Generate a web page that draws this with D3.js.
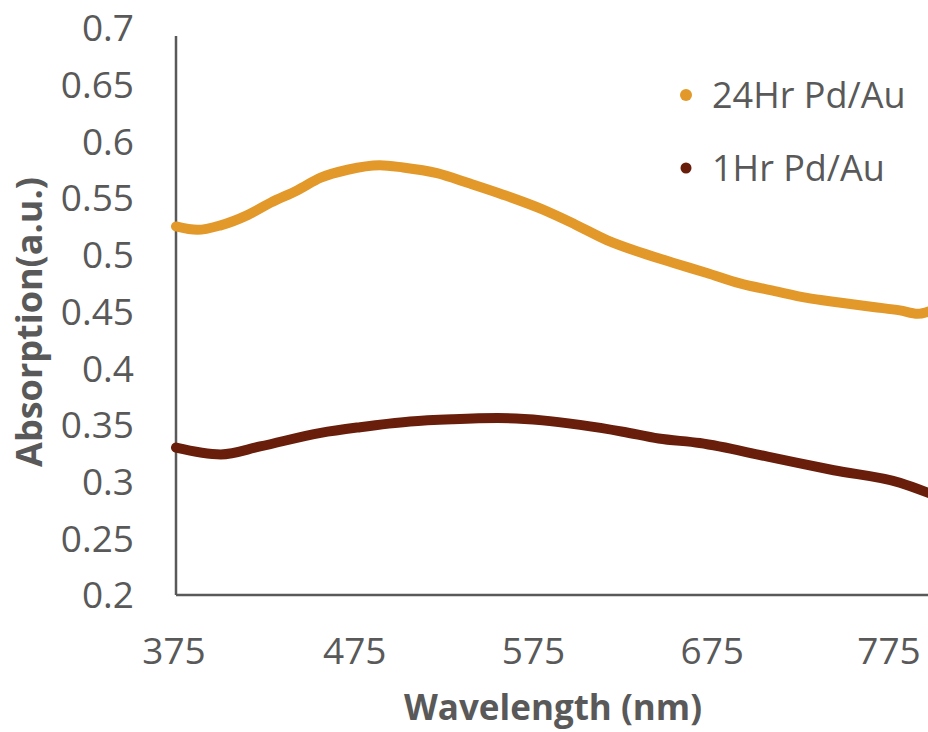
<!DOCTYPE html>
<html><head><meta charset="utf-8">
<script src="https://cdn.jsdelivr.net/npm/d3@7"></script>
<style>body{margin:0;background:#fff}svg{display:block}</style>
</head><body><div id="chart"></div>
<script>
const wavelengths24 = [375,387,400,415,428,443,456,471,489,502,521,539,558,580,598,616,635,653,672,690,710,728,746,765,780,790,796];
const absorb24 =      [0.525,0.522,0.526,0.535,0.546,0.557,0.568,0.575,0.579,0.577,0.572,0.563,0.553,0.540,0.527,0.513,0.502,0.493,0.484,0.475,0.468,0.462,0.458,0.454,0.451,0.448,0.450];
const wavelengths1 = [375,400,422,456,478,506,530,555,580,601,625,645,668,706,743,780,796];
const absorb1 =      [0.330,0.324,0.331,0.343,0.348,0.353,0.355,0.356,0.354,0.350,0.344,0.338,0.334,0.322,0.310,0.299,0.290];
const xTicks = [375,475,575,675,775];
const yTicks = [0.2,0.25,0.3,0.35,0.4,0.45,0.5,0.55,0.6,0.65,0.7];
const seriesNames = ["24Hr Pd/Au","1Hr Pd/Au"];
const colors = ["#E3982A","#681E0A"];

const W=928,H=732;
const svg=d3.select("#chart").append("svg").attr("width",W).attr("height",H);
const x=d3.scaleLinear().domain([375,775]).range([176,891]);
const y=d3.scaleLinear().domain([0.2,0.7]).range([595,28]);
const grey="#595959";
const font="'Open Sans', sans-serif";

// axes lines
svg.append("line").attr("x1",x(375)).attr("x2",W).attr("y1",y(0.2)).attr("y2",y(0.2)).attr("stroke",grey).attr("stroke-width",2.5);
svg.append("line").attr("x1",x(375)).attr("x2",x(375)).attr("y1",36).attr("y2",y(0.2)).attr("stroke",grey).attr("stroke-width",2.5);

// tick labels
svg.append("g").selectAll("text").data(yTicks).join("text")
  .attr("x",134).attr("y",d=>y(d)).attr("dy","0.36em").attr("text-anchor","end")
  .attr("font-family",font).attr("font-size",37).attr("fill",grey).text(d=>d3.format("")(d));
svg.append("g").selectAll("text").data(xTicks).join("text")
  .attr("x",d=>Math.min(x(d),889)-(d===375?2:0)).attr("y",651).attr("dy","0.36em").attr("text-anchor","middle")
  .attr("font-family",font).attr("font-size",37).attr("fill",grey).text(d=>d);

// axis titles
svg.append("text").attr("x",553).attr("y",707).attr("dy","0.36em").attr("text-anchor","middle")
  .attr("font-family",font).attr("font-weight","bold").attr("font-size",35).attr("fill",grey).text("Wavelength (nm)");
svg.append("text").attr("transform","translate(29,322) rotate(-90)").attr("dy","0.36em").attr("text-anchor","middle")
  .attr("font-family",font).attr("font-weight","bold").attr("font-size",36).attr("fill",grey).text("Absorption(a.u.)");

// lines
const line=d3.line().x(d=>x(d[0])).y(d=>y(d[1])).curve(d3.curveMonotoneX);
const data=[wavelengths24.map((w,i)=>[w,absorb24[i]]), wavelengths1.map((w,i)=>[w,absorb1[i]])];
svg.append("g").selectAll("path").data(data).join("path")
  .attr("d",line).attr("fill","none").attr("stroke",(d,i)=>colors[i])
  .attr("stroke-width",10).attr("stroke-linecap","round").attr("stroke-linejoin","round");

// legend
const lg=svg.append("g");
seriesNames.forEach((n,i)=>{
  const ly=95+i*73;
  lg.append("circle").attr("cx",686).attr("cy",ly).attr("r",i===0?6:5.5).attr("fill",colors[i]);
  lg.append("text").attr("x",712).attr("y",ly).attr("dy","0.36em").attr("font-family",font)
    .attr("font-size",36).attr("fill",grey).text(n);
});
</script></body></html>
